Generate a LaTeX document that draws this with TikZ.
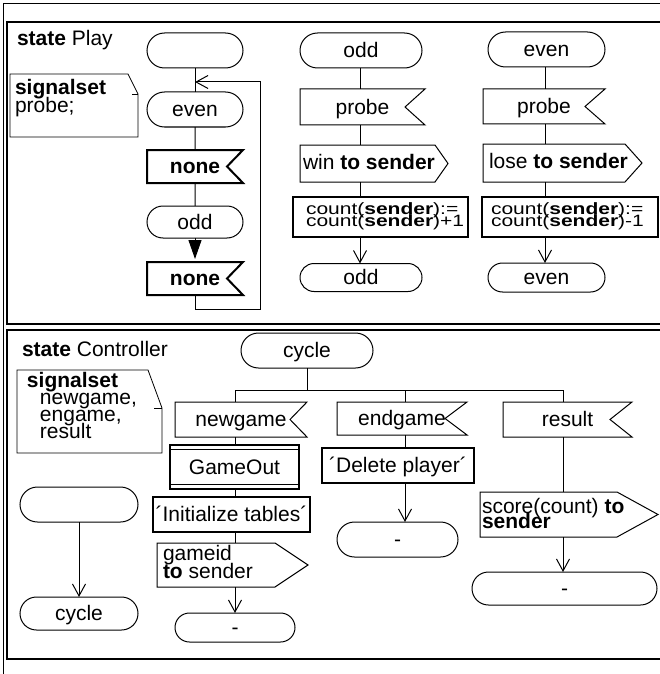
\documentclass[tikz,border=0pt]{standalone}
\usepackage{fontspec}
\setmainfont{Liberation Sans}
\usetikzlibrary{arrows.meta,shapes.misc}

% SDL input symbol: rectangle with a notch cut into its right side
\newcommand\insig[3][]{%
  \draw[sym,#1] (#2.north west) -- (#2.north east) -- ([xshift=-#3 pt]#2.east)
    -- (#2.south east) -- (#2.south west) -- cycle;}
% SDL output symbol: rectangle with a point on its right side
\newcommand\outsig[2]{%
  \draw[sym] (#1.north west) -- ([xshift=-#2 pt]#1.north east) -- (#1.east)
    -- ([xshift=-#2 pt]#1.south east) -- (#1.south west) -- cycle;}
% text symbol (note) with a folded corner
\newcommand\notesym[3]{%
  \draw[sym,line width=0.8pt] (#1.south west) -- (#1.north west) -- ([xshift=-#2 pt]#1.north east)
    -- ([yshift=-#3 pt]#1.north east) -- (#1.south east) -- cycle;
  \draw[sym,line width=0.8pt] ([yshift=-#3 pt]#1.north east) -- ++(-0.6*#2,0);}
% lines of text set at a fixed baseline distance; the box's baseline is the first line's
\newcommand\linestack[2]{\vtop{\baselineskip=#1pt\lineskiplimit=-100pt\lineskip=0pt #2}}

\begin{document}
\begin{tikzpicture}[x=1pt,y=-1pt,
  every node/.style={font=\fontsize{21}{21}\selectfont, inner sep=0pt, outer sep=0pt},
  sym/.style={draw=black, line width=1pt, line join=miter},
  heavy/.style={line width=2pt},
  conn/.style={draw=black, line width=1pt},
  arr/.style={conn, -{Straight Barb[length=12pt,width=13pt,line width=1pt]}},
  sz/.style 2 args={minimum width=#1, minimum height=#2},
  lbl/.style={rectangle, text height=14pt, text depth=0pt},
  stad/.style={rounded rectangle, draw=black, line width=1pt, text height=14pt, text depth=0pt},
  task/.style={rectangle, draw=black, line width=2pt, text height=14pt, text depth=0pt},
  txt/.style={anchor=base west}
]
\useasboundingbox (0,0) rectangle (660,674);
\fill[white] (0,0) rectangle (660,674);
\clip (0,0) rectangle (660,674);

% frames
\draw[line width=1pt] (3,700) -- (3,4) -- (700,4);
\draw[line width=2pt] (700,22) -- (6.5,22) -- (6.5,324) -- (700,324);
\draw[line width=2pt] (700,330) -- (6.5,330) -- (6.5,659) -- (700,659);

% ---------------- state Play ----------------
\node[txt] (titleA) at (17,46) {\textbf{state} Play};
\node[sz={128}{63}] (noteA) at (74,105.5) {};
\notesym{noteA}{10}{20}
\node[txt] (noteAt) at (15,95) {\linestack{18}{\hbox{\textbf{signalset}}\hbox{probe;}}};

% left column
\node[stad, sz={96}{35}] (start0) at (195,50.5) {};
\node[stad, sz={96}{35}] (even1) at (195,109.5) {even};
\node[lbl, sz={96}{33}] (none1) at (195,166.5) {\textbf{none}};
\insig[heavy]{none1}{16}
\node[stad, sz={96}{32}] (odd1) at (195,222) {odd};
\node[lbl, sz={96}{33}] (none2) at (195,278.5) {\textbf{none}};
\insig[heavy]{none2}{16}
\coordinate (loopR) at (260,309);
\coordinate (join) at (195,82);
\draw[conn] (start0) -- (even1);
\draw[conn] (even1) -- (none1);
\draw[conn] (none1) -- (odd1);
\draw[conn, -{Triangle[length=19pt,width=13pt]}, shorten >=3pt] (odd1) -- (none2);
\draw[arr] (none2.south) |- (loopR) |- (join);

% middle column
\coordinate (cM) at (360,0);
\node[stad, sz={122}{35}] (odd2) at (361,50.5) {odd};
\node[lbl, sz={125}{36}] (probe1) at (362.5,107) {probe};
\insig{probe1}{20}
\node[sz={148}{37}] (win) at (374,163.5) {};
\outsig{win}{13}
\node[txt] (winT) at (303,169) {win \textbf{to sender}};
\node[task, sz={175}{40}] (task1) at (380.5,217) {};
\begin{scope}[shift={(306,214.5)}, yscale=0.78]
  \node[txt, transform shape] (task1t) at (0,0)
    {\linestack{15}{\hbox{count(\textbf{sender}):=}\hbox{count(\textbf{sender})+1}}};
\end{scope}
\node[stad, sz={122}{28}] (odd3) at (361,277.5) {odd};
\draw[conn] (odd2.south -| cM) -- (probe1.north -| cM);
\draw[conn] (probe1.south -| cM) -- (win.north -| cM);
\draw[conn] (win.south -| cM) -- (task1.north -| cM);
\draw[arr] (task1.south -| cM) -- (odd3.north -| cM);

% right column
\coordinate (cR) at (545,0);
\node[stad, sz={117}{35}] (even2) at (546.5,49.5) {even};
\node[lbl, sz={122}{35}] (probe2) at (544,106.5) {probe};
\insig{probe2}{20}
\node[sz={159}{38}] (lose) at (562.5,163) {};
\outsig{lose}{17}
\node[txt] (loseT) at (489,168.5) {lose \textbf{to sender}};
\node[task, sz={176}{40}] (task2) at (570,217) {};
\begin{scope}[shift={(491,214.5)}, yscale=0.78]
  \node[txt, transform shape] (task2t) at (0,0)
    {\linestack{15}{\hbox{count(\textbf{sender}):=}\hbox{count(\textbf{sender})-1}}};
\end{scope}
\node[stad, sz={117}{29}] (even3) at (546.5,277.5) {even};
\draw[conn] (even2.south -| cR) -- (probe2.north -| cR);
\draw[conn] (probe2.south -| cR) -- (lose.north -| cR);
\draw[conn] (lose.south -| cR) -- (task2.north -| cR);
\draw[arr] (task2.south -| cR) -- (even3.north -| cR);

% ---------------- state Controller ----------------
\node[txt] (titleB) at (22,356) {\textbf{state} Controller};
\node[sz={145}{83}] (noteB) at (89.5,411.5) {};
\notesym{noteB}{14}{38}
\node[txt] (noteBt) at (27,387) {\linestack{17}{\hbox{\textbf{signalset}}\hbox{\hspace{13pt}newgame,}\hbox{\hspace{13pt}engame,}\hbox{\hspace{13pt}result}}};

\node[stad, sz={132}{35}] (cycle0) at (307,350.5) {cycle};
\coordinate (jL) at (235,390);
\coordinate (jM) at (405,390);
\coordinate (jR) at (563,390);
\draw[conn] (cycle0.south) -- (cycle0.south |- jL);
\draw[conn] (jL) -- (jR);

% newgame branch
\node[lbl, sz={132}{35}] (newgame) at (241,419.5) {newgame};
\insig{newgame}{17}
\node[task, sz={129}{44}, line width=1.8pt] (gameout) at (234.5,467) {GameOut};
\draw[line width=1.4pt] ([yshift=-4.5pt]gameout.north west) -- ([yshift=-4.5pt]gameout.north east);
\draw[line width=1.4pt] ([yshift=4.5pt]gameout.south west) -- ([yshift=4.5pt]gameout.south east);
\node[task, sz={157}{35}] (init) at (231.5,514.5) {´Initialize tables´};
\node[sz={151}{44}] (gameid) at (232.5,565) {};
\outsig{gameid}{33}
\node[txt] (gameidt) at (163,560) {\linestack{18}{\hbox{gameid}\hbox{\textbf{to} sender}}};
\node[stad, sz={120}{29}] (dash1) at (235,627.5) {-};
\draw[conn] (jL) -- (jL |- newgame.north);
\draw[conn] (newgame.south -| jL) -- (gameout.north -| jL);
\draw[conn] (gameout.south -| jL) -- (init.north -| jL);
\draw[conn] (init.south -| jL) -- (gameid.north -| jL);
\draw[arr] (gameid.south -| jL) -- (dash1.north -| jL);

% endgame branch
\node[lbl, sz={130}{33}] (endgame) at (402,418.5) {endgame};
\insig{endgame}{22}
\node[task, sz={152}{35}] (delete) at (398,465.5) {´Delete player´};
\node[stad, sz={121}{35}] (dash2) at (397.5,539.5) {-};
\draw[conn] (jM) -- (jM |- endgame.north);
\draw[conn] (endgame.south -| jM) -- (delete.north -| jM);
\draw[arr] (delete.south -| jM) -- (dash2.north -| jM);

% result branch
\node[lbl, sz={129}{35}] (result) at (567.5,419.5) {result};
\insig{result}{22}
\node[sz={178}{45}] (score) at (569,514.5) {};
\outsig{score}{41}
\node[txt] (scoret) at (482,513) {\linestack{15}{\hbox{score(count) \textbf{to}}\hbox{\textbf{sender}}}};
\node[stad, sz={185}{33}] (dash3) at (564.5,588.5) {-};
\draw[conn] (jR) -- (jR |- result.north);
\draw[conn] (result.south -| jR) -- (score.north -| jR);
\draw[arr] (score.south -| jR) -- (dash3.north -| jR);

% stand-alone transition
\node[stad, sz={118}{35}] (blank) at (79,504.5) {};
\node[stad, sz={118}{33}] (cycle1) at (79,613.5) {cycle};
\draw[arr] (blank) -- (cycle1);
\end{tikzpicture}
\end{document}
